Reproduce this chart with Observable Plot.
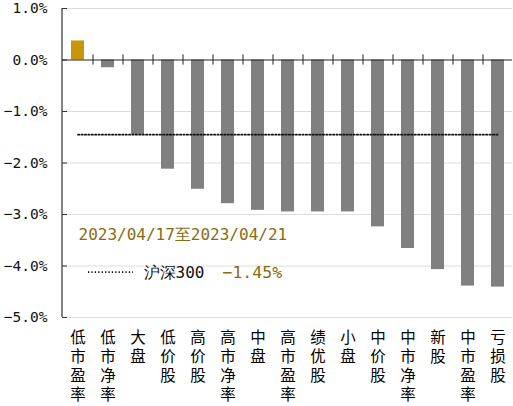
<!DOCTYPE html>
<html>
<head>
<meta charset="utf-8">
<script src="https://cdn.jsdelivr.net/npm/d3@7"></script>
<script src="https://cdn.jsdelivr.net/npm/@observablehq/plot@0.6"></script>
<style>
  html, body { margin: 0; padding: 0; background: #fff; }
  #chart svg { display: block; }
</style>
</head>
<body>
<div id="chart"></div>
<script>
const categories = ["低市盈率","低市净率","大盘","低价股","高价股","高市净率","中盘","高市盈率","绩优股","小盘","中价股","中市净率","新股","中市盈率","亏损股"];
const values = [0.37, -0.15, -1.45, -2.12, -2.51, -2.79, -2.92, -2.95, -2.95, -2.95, -3.24, -3.66, -4.07, -4.39, -4.41];
const yTicks = [1, 0, -1, -2, -3, -4, -5];
const benchmarkName = "沪深300";
const benchmarkValue = -1.45;
const dateRange = "2023/04/17至2023/04/21";

const data = categories.map((c, i) => ({category: c, value: values[i]}));
const GOLD = "#C8960A", GRAY = "#808080", OLIVE = "#8B6B10";
const mono = "'DejaVu Sans Mono', 'Liberation Mono', monospace";
const cjk = "'Noto Sans CJK SC', sans-serif";
const fmt = d => (d < 0 ? "\u2212" : "") + Math.abs(d).toFixed(1) + "%";
const fmt2 = d => (d < 0 ? "\u2212" : "") + Math.abs(d).toFixed(2) + "%";

const chart = Plot.plot({
  width: 513,
  height: 406,
  marginLeft: 62,
  marginRight: 1,
  marginTop: 8,
  marginBottom: 89,
  style: {background: "#fff", overflow: "visible"},
  x: {domain: categories, paddingInner: 0.58, paddingOuter: 0.29, axis: null},
  y: {domain: [-5, 1], axis: null},
  marks: [
    Plot.ruleY(yTicks.filter(d => d !== 0), {stroke: "#dcdcdc", strokeWidth: 1}),
    Plot.axisY(yTicks, {anchor: "left", tickSize: 0, tickPadding: 15, tickFormat: fmt,
      fontSize: 14.5, fontFamily: mono, fill: "#111", fontWeight: 300}),
    Plot.axisY(yTicks, {anchor: "left", tickSize: 5, dx: 5, text: null, stroke: "#333"}),
    Plot.barY(data, {x: "category", y: "value", fill: d => d.value > 0 ? GOLD : GRAY}),
    Plot.ruleY([0], {stroke: "#222", strokeWidth: 1.2}),
    Plot.ruleX(categories.slice(0, -1), {x: d => d, dx: 15, y1: -0.1, y2: 0.1, stroke: "#222"}),
    Plot.lineY([categories[0], categories[categories.length - 1]].map(c => ({c, v: benchmarkValue})),
      {x: "c", y: "v", stroke: "#111", strokeWidth: 1.8, strokeDasharray: "1.3,2.1"}),
    Plot.text(categories, {x: d => d, text: d => d, frameAnchor: "bottom",
      textAnchor: "start", lineAnchor: "bottom", dy: 12, fontSize: 15.5, fontFamily: cjk, fill: "#000"}),
    Plot.text([dateRange], {frameAnchor: "left", y: -3.40, dx: 16, textAnchor: "start",
      fontSize: 16, fontFamily: mono, fill: OLIVE}),
    Plot.text([benchmarkName], {frameAnchor: "left", y: -4.13, dx: 81, textAnchor: "start",
      fontSize: 16, fontFamily: mono, fill: "#111"}),
    Plot.text([benchmarkValue], {frameAnchor: "left", y: -4.13, dx: 160, textAnchor: "start",
      text: d => fmt2(d), fontSize: 16.5, fontFamily: mono, fill: OLIVE})
  ]
});

const svg = d3.select(chart);
// category labels: vertical, upright characters
const catSet = new Set(categories);
svg.selectAll("text").filter(function() { return catSet.has(this.textContent); })
  .attr("dy", null)
  .attr("writing-mode", "vertical-rl")
  .style("text-orientation", "upright")
  .style("letter-spacing", "3.5px");

// left axis line and legend swatch, positioned with the plot's scales
const ys = chart.scale("y");
svg.append("line")
  .attr("x1", 62).attr("x2", 62)
  .attr("y1", ys.apply(1)).attr("y2", ys.apply(-5))
  .attr("stroke", "#333").attr("stroke-width", 1.2);
const ly = ys.apply(-4.13);
svg.append("line")
  .attr("x1", 88).attr("x2", 133).attr("y1", ly).attr("y2", ly)
  .attr("stroke", "#111").attr("stroke-width", 1.8).attr("stroke-dasharray", "1.3,2.1");

document.getElementById("chart").append(chart);
</script>
</body>
</html>
